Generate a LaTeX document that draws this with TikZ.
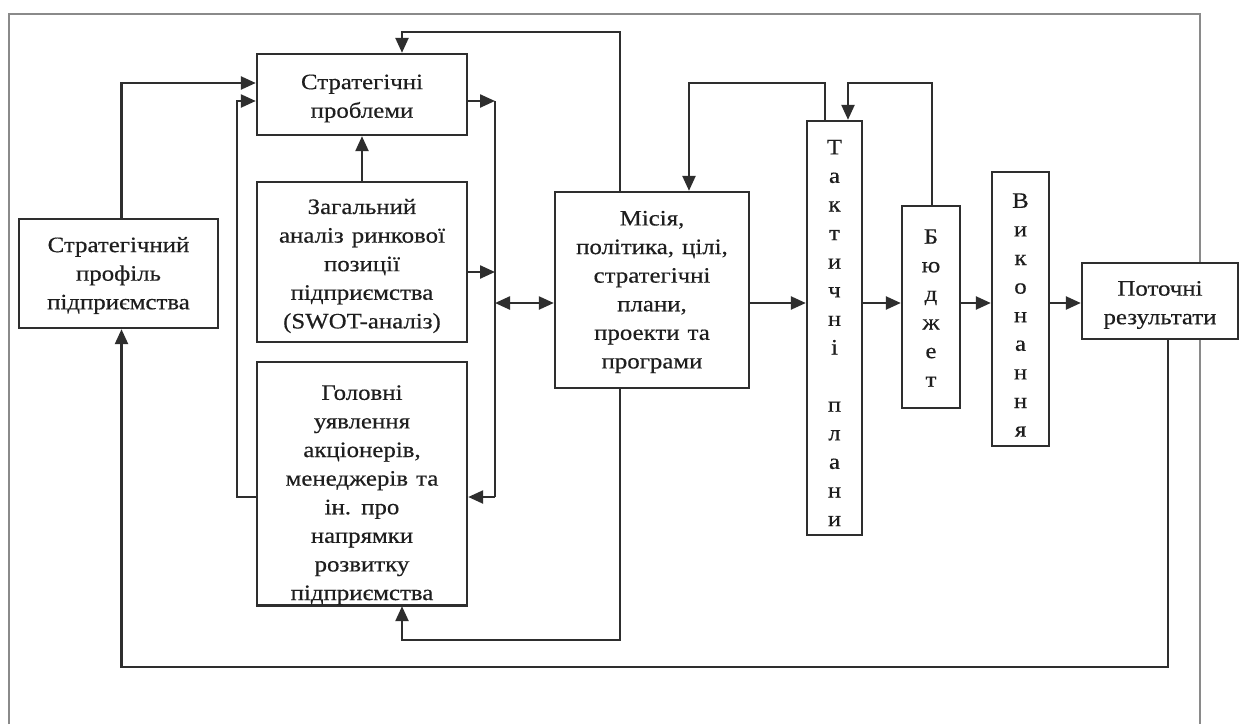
\documentclass[tikz,border=0pt]{standalone}
\usepackage{fontspec}
\setmainfont{Liberation Serif}[FakeStretch=1.13, FakeBold=0.4, WordSpace=1.3]
\usetikzlibrary{arrows.meta}
\definecolor{ln}{HTML}{2E2E2E}
\definecolor{fr}{HTML}{8A8A8A}
\definecolor{tx}{HTML}{1E1E1E}
\tikzset{
  box/.style={draw=ln, line width=2.4pt, fill=white, inner sep=0pt},
  txt/.style={align=center, inner sep=0pt, text=tx,
    font=\fontsize{22}{28.6}\selectfont, yshift=-4pt},
  conn/.style={draw=ln, line width=2.4pt},
  arr/.style={conn, -{Triangle[length=15pt,width=13pt]}},
  darr/.style={conn, {Triangle[length=15pt,width=13pt]}-{Triangle[length=15pt,width=13pt]}},
  frameline/.style={draw=fr, line width=1.4pt}
}
\begin{document}
\begin{tikzpicture}[x=1pt,y=-1pt]
\useasboundingbox[fill=white] (0,0) rectangle (1240,724);
\draw[frameline] (9,724) -- (9,14) -- (1200,14) -- (1200,724);

\node[box, minimum width=199pt, minimum height=109pt,
  label={[txt, yshift=2pt]center:{Стратегічний\\профіль\\підприємства}}] (prof) at (118.5,273.5) {};
\node[box, minimum width=210pt, minimum height=81pt,
  label={[txt]center:{Стратегічні\\проблеми}}] (sp) at (362,94.5) {};
\node[box, minimum width=210pt, minimum height=160pt,
  label={[txt]center:{Загальний\\аналіз ринкової\\позиції\\підприємства\\(SWOT-аналіз)}}] (za) at (362,262) {};
\node[box, minimum width=210pt, minimum height=243pt] (gu) at (362,483.5) {};
\node[txt, yshift=0pt] (gutext) at (362,491)
  {Головні\\уявлення\\акціонерів,\\менеджерів та\\ін. про\\напрямки\\розвитку\\підприємства};
\draw[ln, line width=2.4pt] (gu.south west) -- (gu.south east);
\node[box, minimum width=194pt, minimum height=196pt,
  label={[txt, yshift=2pt]center:{Місія,\\політика, цілі,\\стратегічні\\плани,\\проекти та\\програми}}] (mis) at (652,290) {};
\node[box, minimum width=55pt, minimum height=414pt,
  label={[txt, yshift=-1pt]center:{Т\\а\\к\\т\\и\\ч\\н\\і\\ \\п\\л\\а\\н\\и}}] (tak) at (834.5,328) {};
\node[box, minimum width=58pt, minimum height=202pt,
  label={[txt, yshift=3pt]center:{Б\\ю\\д\\ж\\е\\т}}] (bud) at (931,307) {};
\node[box, minimum width=57pt, minimum height=274pt,
  label={[txt, yshift=-2pt]center:{В\\и\\к\\о\\н\\а\\н\\н\\я}}] (vyk) at (1020.5,309) {};
\node[box, minimum width=156pt, minimum height=76pt,
  label={[txt]center:{Поточні\\результати}}] (pot) at (1160,301) {};

\coordinate (row) at (0,303);
\coordinate (busT) at (495,101);
\coordinate (busZ) at (495,272);
\coordinate (busM) at (495,303);
\coordinate (busB) at (495,497);
\coordinate (lv) at (237,497);
\coordinate (mtop) at (620,32);
\coordinate (mbot) at (620,640);
\coordinate (pbot) at (1168,667);
\coordinate (tt) at (825,83);
\coordinate (bt) at (932,83);

% left inputs
\draw[arr] ([xshift=3pt]prof.north) |- ([yshift=11.5pt]sp.west);
\draw[arr] (gu.west |- lv) -- (lv) |- ([yshift=-6.5pt]sp.west);
\draw[arr] (za.north) -- (sp.south);
% right bus
\draw[arr] (sp.east |- busT) -- (busT);
\draw[arr] (za.east |- busZ) -- (busZ);
\draw[conn] (busT) -- (busB);
\draw[arr] (busB) -- (gu.east |- busB);
\draw[darr] (busM) -- (mis.west |- busM);
% feedback from mission
\draw[arr] (mis.north -| mtop) -- (mtop) -| ([xshift=40pt]sp.north);
\draw[arr] (mis.south -| mbot) -- (mbot) -| ([xshift=40pt]gu.south);
% main row
\draw[arr] (mis.east |- row) -- (tak.west |- row);
\draw[arr] (tak.east |- row) -- (bud.west |- row);
\draw[arr] (bud.east |- row) -- (vyk.west |- row);
\draw[arr] (vyk.east |- row) -- (pot.west |- row);
% upper feedbacks
\draw[arr] (tak.north -| tt) -- (tt) -| ([xshift=37pt]mis.north);
\draw[arr] (bud.north -| bt) -- (bt) -| ([xshift=13.5pt]tak.north);
% bottom feedback
\draw[arr] (pot.south -| pbot) -- (pbot) -| ([xshift=3pt]prof.south);
\end{tikzpicture}
\end{document}
